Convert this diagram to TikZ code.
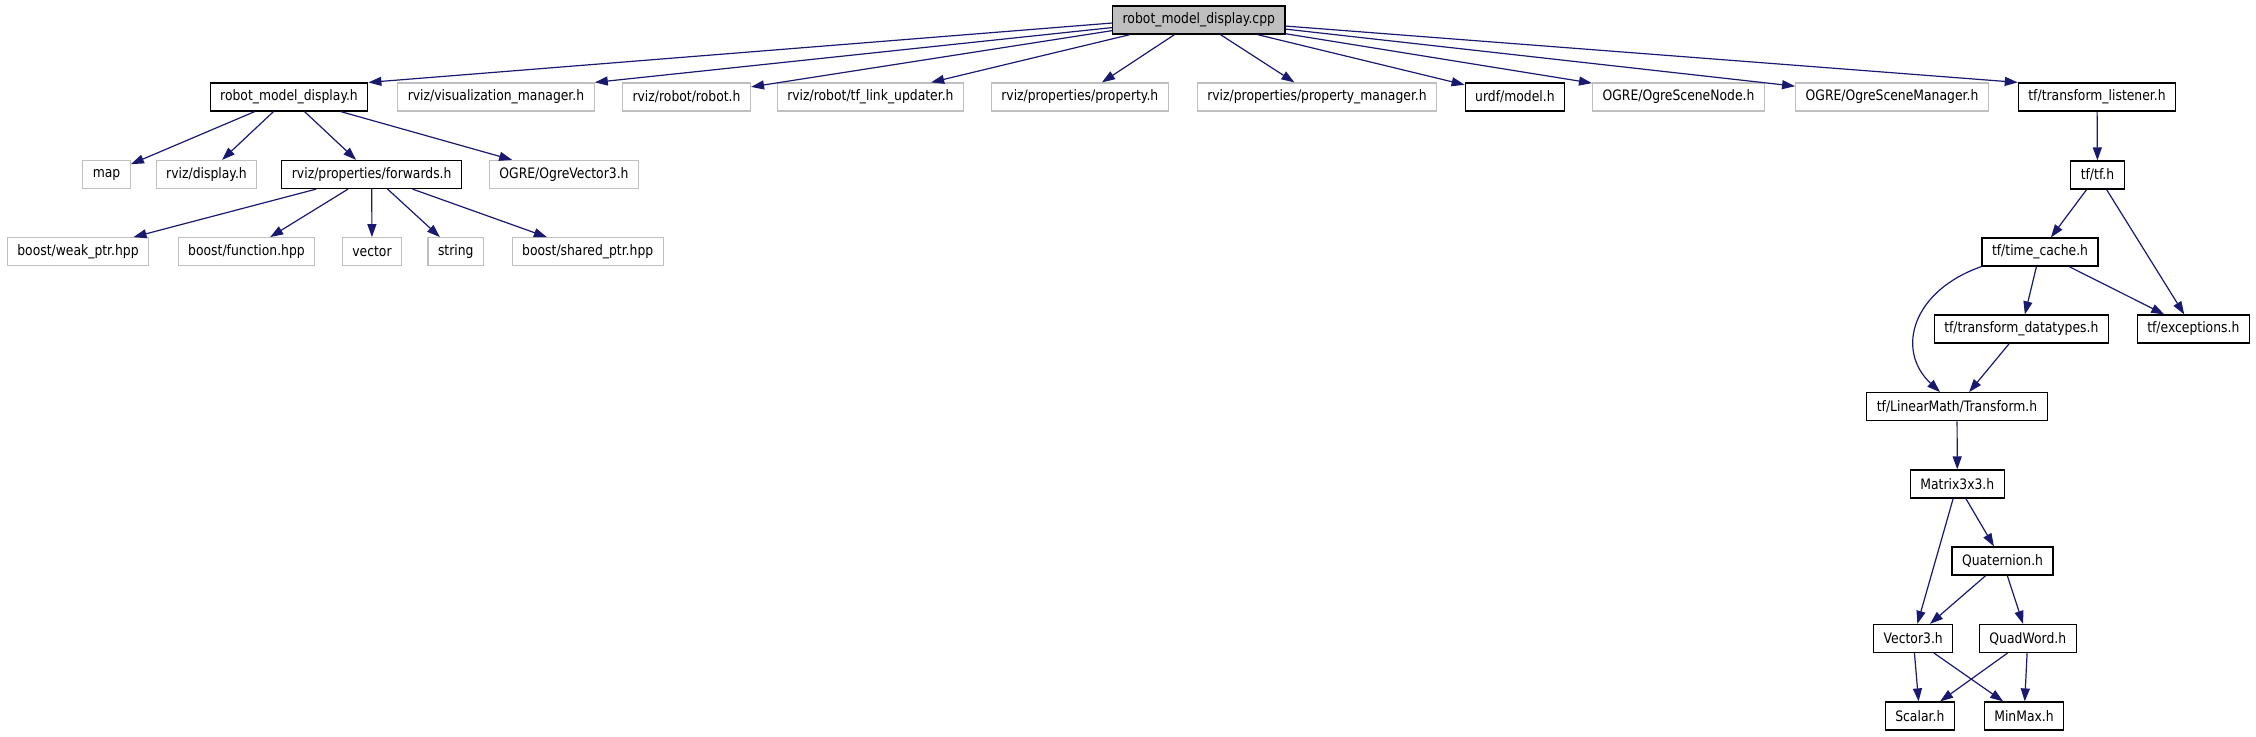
\documentclass[tikz,border=0pt]{standalone}
\usepackage{fontspec}
\setmainfont{DejaVu Sans}[FakeStretch=0.86]
\usepackage{tikz}
\usetikzlibrary{arrows.meta, positioning}
\definecolor{edgeblue}{HTML}{191970}
\definecolor{sysgray}{HTML}{BFBFBF}
\tikzset{
    filenode/.style={rectangle, draw=black, fill=white, line width=1.2pt, minimum height=28pt, inner xsep=10pt, inner ysep=2pt, font=\fontsize{14.4}{16}\selectfont},
    sysnode/.style={filenode, draw=sysgray},
    rootnode/.style={filenode, fill=sysgray},
    incl/.style={->, draw=edgeblue, line width=1.2pt}
}
\begin{document}
\begin{tikzpicture}[>={Triangle[length=13pt, width=9pt]}, x=1pt, y=-1pt]
\useasboundingbox (0,0) rectangle (2256,736);
\node[rootnode] (cpp) at (1198.8,20) {robot\_model\_display.cpp};
\node[filenode] (rmdh) at (289,97) {robot\_model\_display.h};
\node[sysnode] (vismgr) at (496,97) {rviz/visualization\_manager.h};
\node[sysnode] (robot) at (686.5,97) {rviz/robot/robot.h};
\node[sysnode] (linkupd) at (870.4,97) {rviz/robot/tf\_link\_updater.h};
\node[sysnode] (prop) at (1079.8,97) {rviz/properties/property.h};
\node[sysnode] (propmgr) at (1317,97) {rviz/properties/property\_manager.h};
\node[filenode] (urdf) at (1514.9,97) {urdf/model.h};
\node[sysnode] (scenenode) at (1678.5,97) {OGRE/OgreSceneNode.h};
\node[sysnode] (scenemgr) at (1892,97) {OGRE/OgreSceneManager.h};
\node[filenode] (tflisten) at (2097,97) {tf/transform\_listener.h};
\node[sysnode] (map) at (106.6,174.5) {map};
\node[sysnode] (display) at (206.5,174.5) {rviz/display.h};
\node[filenode] (fwd) at (371.7,174.5) {rviz/properties/forwards.h};
\node[sysnode] (ogrevec) at (564,174.5) {OGRE/OgreVector3.h};
\node[filenode] (tfh) at (2097.5,175) {tf/tf.h};
\node[sysnode] (weakptr) at (78,251.7) {boost/weak\_ptr.hpp};
\node[sysnode] (function) at (246.5,251.7) {boost/function.hpp};
\node[sysnode] (vector) at (372,251.7) {vector};
\node[sysnode] (string) at (455.8,251.7) {string};
\node[sysnode] (sharedptr) at (587.7,251.7) {boost/shared\_ptr.hpp};
\node[filenode] (timecache) at (2040,252) {tf/time\_cache.h};
\node[filenode] (datatypes) at (2021.3,329) {tf/transform\_datatypes.h};
\node[filenode] (exceptions) at (2193.3,329) {tf/exceptions.h};
\node[filenode] (transform) at (1957,406.7) {tf/LinearMath/Transform.h};
\node[filenode] (matrixh) at (1957.3,484) {Matrix3x3.h};
\node[filenode] (quaternion) at (2002.5,561) {Quaternion.h};
\node[filenode] (vectorthree) at (1913.2,638.5) {Vector3.h};
\node[filenode] (quadword) at (2027.8,638.5) {QuadWord.h};
\node[filenode] (scalar) at (1919.8,716) {Scalar.h};
\node[filenode] (minmax) at (2024,716) {MinMax.h};
\draw[incl] (cpp.182.5) -- (rmdh.north east);
\draw[incl] (cpp.185.7) -- (vismgr.north east);
\draw[incl] (cpp.187.6) -- (robot);
\draw[incl] (cpp.192.8) -- (linkupd);
\draw[incl] (cpp.211.8) -- (prop);
\draw[incl] (cpp.326.3) -- (propmgr);
\draw[incl] (cpp.346.3) -- (urdf);
\draw[incl] (cpp.351.5) -- (scenenode);
\draw[incl] (cpp.354.1) -- (scenemgr);
\draw[incl] (cpp.356.8) -- (tflisten.north west);
\draw[incl] (rmdh) -- (map);
\draw[incl] (rmdh) -- (display);
\draw[incl] (rmdh) -- (fwd);
\draw[incl] (rmdh) -- (ogrevec);
\draw[incl] (fwd) -- (weakptr);
\draw[incl] (fwd) -- (function);
\draw[incl] (fwd) -- (vector);
\draw[incl] (fwd) -- (string);
\draw[incl] (fwd) -- (sharedptr);
\draw[incl] (tflisten) -- (tfh);
\draw[incl] (tfh) -- (timecache);
\draw[incl] (tfh) -- (exceptions);
\draw[incl] (timecache.194) .. controls +(-69,24) and +(-45,-42) .. ([xshift=-17pt]transform.north);
\draw[incl] (timecache) -- (datatypes);
\draw[incl] (timecache) -- (exceptions);
\draw[incl] (datatypes) -- (transform);
\draw[incl] (transform) -- (matrixh);
\draw[incl] (matrixh) -- (vectorthree);
\draw[incl] (matrixh) -- (quaternion);
\draw[incl] (quaternion) -- (vectorthree);
\draw[incl] (quaternion) -- (quadword);
\draw[incl] (vectorthree) -- (scalar);
\draw[incl] (vectorthree) -- (minmax);
\draw[incl] (quadword) -- (scalar);
\draw[incl] (quadword) -- (minmax);
\end{tikzpicture}
\end{document}
